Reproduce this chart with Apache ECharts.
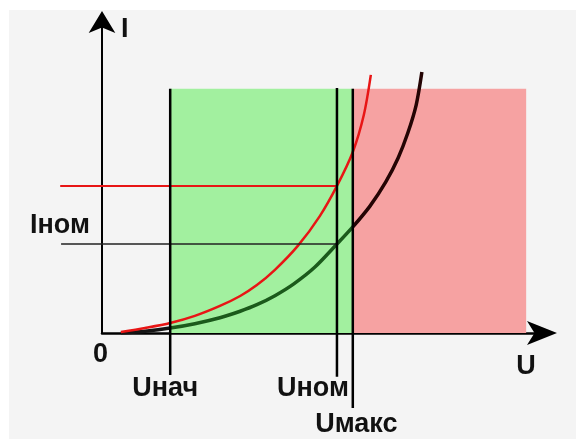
<!DOCTYPE html>
<html>
<head>
<meta charset="utf-8">
<script src="https://cdn.jsdelivr.net/npm/echarts@6/dist/echarts.min.js"></script>
<style>
html,body{margin:0;padding:0;background:#fff;}
#c{width:576px;height:439px;}
</style>
</head>
<body>
<div id="c"></div>
<script>
// ---- data (arbitrary units: U 0..100, I 0..100) ----
const redCurveU = [4.3, 9.8, 15.5, 21.1, 26.8, 31.4, 35.2, 39.3, 44.5, 49.5, 53.4, 57.0, 59.5, 61.1];
const redCurveI = [0.3, 1.6, 3.2, 5.5, 8.7, 11.9, 15.4, 20.3, 28.0, 37.6, 47.3, 58.2, 70.1, 83.0];
const blackCurveU = [4.3, 9.8, 15.5, 21.1, 26.8, 31.4, 35.2, 39.3, 43.6, 48.4, 53.4, 57.0, 60.9, 64.5, 67.3, 69.5, 71.4, 72.7];
const blackCurveI = [0.0, 0.6, 1.6, 3.0, 4.9, 7.0, 9.1, 12.0, 15.8, 21.2, 28.6, 34.1, 40.8, 48.6, 56.3, 64.3, 73.3, 83.9];
const uLabels = ['Uнач', 'Uном', 'Uмакс'];
const uValues = [15.5, 53.4, 57.0];
const uLineBottom = [-13.5, -14.1, -24.1];
const uLineTop = [78.5, 78.8, 78.5];
const iNom = 28.6;
const iRed = 47.3;
const hLineStart = [-9.3, -9.5];
const zoneTop = 78.5;
const zoneRightEnd = 96.4;

const redData = redCurveU.map((u, i) => [u, redCurveI[i]]);
const blackData = blackCurveU.map((u, i) => [u, blackCurveI[i]]);

const chart = echarts.init(document.getElementById('c'), null, {renderer: 'canvas'});

function guideSeries(data, color, width, z) {
  return {
    type: 'custom', coordinateSystem: 'cartesian2d', silent: true, z: z, clip: false,
    encode: {x: [0, 2], y: [1, 3]},
    data: data,
    renderItem: function (params, api) {
      const p1 = api.coord([api.value(0), api.value(1)]);
      const p2 = api.coord([api.value(2), api.value(3)]);
      return {type: 'line', shape: {x1: p1[0], y1: p1[1], x2: p2[0], y2: p2[1]},
        style: {stroke: color, lineWidth: width}};
    }
  };
}

const vLines = uValues.map((u, i) => [u, uLineBottom[i], u, uLineTop[i]]);

const option = {
  backgroundColor: '#ffffff',
  animation: false,
  grid: {left: 102, top: 22, right: 34, bottom: 106, containLabel: false},
  xAxis: {
    type: 'value', min: 0, max: 100,
    axisLine: {show: true, onZero: false, symbol: ['none', 'arrow'], symbolSize: [18, 30], symbolOffset: [0, 15],
      lineStyle: {color: '#000', width: 2.5}},
    axisTick: {show: false}, axisLabel: {show: false}, splitLine: {show: false}
  },
  yAxis: {
    type: 'value', min: 0, max: 100,
    axisLine: {show: true, onZero: false, symbol: ['none', 'arrow'], symbolSize: [20, 22], symbolOffset: [0, 11],
      lineStyle: {color: '#000', width: 2}},
    axisTick: {show: false}, axisLabel: {show: false}, splitLine: {show: false}
  },
  visualMap: {
    type: 'piecewise', show: false, dimension: 0, seriesIndex: 1,
    pieces: [
      {lt: uValues[0], color: '#151515'},
      {gte: uValues[0], lt: uValues[2], color: '#1b5a1b'},
      {gte: uValues[2], color: '#240404'}
    ]
  },
  graphic: [
    {type: 'rect', id: 'bg', z: -100, silent: true, shape: {x: 9, y: 10, width: 567, height: 429}, style: {fill: '#f4f4f4'}}
  ],
  series: [
    {
      type: 'line', symbol: 'none', silent: true, z: 1, data: [],
      markArea: {
        silent: true,
        data: [
          [{coord: [uValues[0], 0], itemStyle: {color: '#a2f09f', opacity: 1}}, {coord: [uValues[2], zoneTop]}],
          [{coord: [uValues[2], 0], itemStyle: {color: '#f6a2a2', opacity: 1}}, {coord: [zoneRightEnd, zoneTop]}]
        ]
      }
    },
    {
      type: 'line', symbol: 'none', smooth: 0.3, silent: true, z: 3,
      lineStyle: {width: 3.5},
      data: blackData
    },
    {
      type: 'line', symbol: 'none', smooth: 0.3, silent: true, z: 4,
      lineStyle: {color: '#e81515', width: 2.5},
      data: redData
    },
    guideSeries([[hLineStart[0], iNom, uValues[1], iNom]], '#222', 1.5, 5),
    guideSeries([[hLineStart[1], iRed, uValues[1], iRed]], '#e81515', 2, 5),
    guideSeries(vLines, '#000', 2.5, 6)
  ]
};
chart.setOption(option);

const P = (x, y) => chart.convertToPixel({gridIndex: 0}, [x, y]);
const origin = P(0, 0);
const font = {fontFamily: '"Liberation Sans", Arial, sans-serif', fontWeight: 'bold', fontSize: 27, fill: '#111'};
function txt(id, text, x, baseline, align) {
  return {type: 'text', id: id, z: 100, silent: true,
    style: Object.assign({text: text, x: x, y: baseline - 9.5, textAlign: align, textVerticalAlign: 'middle'}, font)};
}
const pU = uValues.map(u => P(u, 0)[0]);
const pNom = P(0, iNom)[1];
chart.setOption({
  graphic: [
    txt('lblI', 'I', origin[0] + 19, 39, 'left'),
    txt('lblInom', 'Iном', 30, pNom - 9, 'left'),
    txt('lbl0', '0', origin[0] - 1.5, origin[1] + 31, 'center'),
    txt('lblU0', uLabels[0], pU[0] - 5, origin[1] + 65, 'center'),
    txt('lblU1', uLabels[1], pU[1] - 24, origin[1] + 65, 'center'),
    txt('lblU2', uLabels[2], pU[2] + 3.5, origin[1] + 101, 'center'),
    txt('lblU', 'U', 526, origin[1] + 43, 'center')
  ]
});
</script>
</body>
</html>
